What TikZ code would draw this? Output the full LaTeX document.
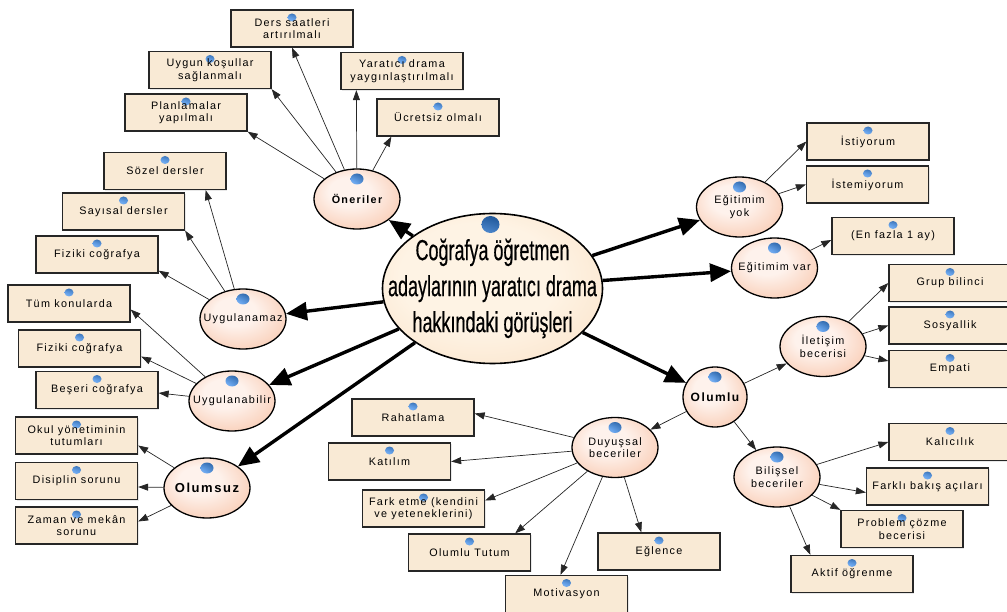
\documentclass[tikz,border=0pt]{standalone}
\usepackage{fontspec}
\setmainfont{Liberation Sans}
\newfontfamily\boxfont[LetterSpace=12]{Liberation Sans}
\newfontfamily\narrowfont[FakeStretch=0.62,FakeBold=0.4]{Liberation Sans}
\usetikzlibrary{arrows.meta,shapes.geometric,shadows}
\definecolor{boxfill}{RGB}{249,234,213}
\definecolor{ovalin}{RGB}{254,242,236}
\definecolor{ovalmid}{RGB}{250,212,192}
\definecolor{ovalout}{RGB}{238,148,112}
\definecolor{mainin}{RGB}{254,243,228}
\definecolor{mainmid}{RGB}{250,226,200}
\definecolor{mainout}{RGB}{240,198,160}
\definecolor{ballblue}{RGB}{55,135,230}
\pgfdeclareradialshading{ovalshade}{\pgfpoint{-6bp}{8bp}}{color(0bp)=(ovalin); color(12bp)=(ovalin);
  color(28bp)=(ovalmid); color(44bp)=(ovalout); color(50bp)=(ovalout)}
\pgfdeclareradialshading{mainshade}{\pgfpoint{-5bp}{6bp}}{color(0bp)=(mainin); color(18bp)=(mainin);
  color(36bp)=(mainmid); color(48bp)=(mainout); color(50bp)=(mainout)}

\begin{document}
\begin{tikzpicture}[x=1pt,y=-1pt,>={Triangle[length=10pt,width=7pt]},
    box/.style={rectangle,draw=black!85,line width=1.3pt,fill=boxfill,
      minimum width=122pt,minimum height=37pt,inner sep=2pt,align=center,
      font=\boxfont\fontsize{10.8}{12.5}\selectfont,
      drop shadow={shadow xshift=1.2pt,shadow yshift=-1.2pt,opacity=0.18},
      path picture={\shade[ball color=ballblue]
        ([yshift=-7.5pt]path picture bounding box.north) ellipse (4.5pt and 4pt);}},
    oval/.style={ellipse,draw=black,line width=1.3pt,shade,shading=ovalshade,
      minimum width=86pt,minimum height=60pt,inner xsep=-10pt,inner ysep=0pt,align=center,
      font=\boxfont\fontsize{10.8}{12.5}\selectfont,
      path picture={\shade[ball color=ballblue]
        ([yshift=-10pt]path picture bounding box.north) ellipse (6.5pt and 5.5pt);}},
    mainoval/.style={ellipse,draw=black,line width=1.6pt,shade,shading=mainshade,
      minimum width=220pt,minimum height=150pt,inner xsep=-30pt,inner ysep=-20pt,align=center,
      font=\narrowfont\fontsize{29}{36}\selectfont,
      path picture={\shade[ball color=ballblue]
        ([xshift=-2pt,yshift=-11pt]path picture bounding box.north) ellipse (9pt and 8.5pt);}},
    small arrow/.style={->,draw=black!85,line width=0.7pt},
    big arrow/.style={-{Triangle[length=21pt,width=18pt]},draw=black,line width=3.4pt}]
  \useasboundingbox (0,0) rectangle (1007,612);

  % center
  \node[mainoval] (main) at (492.5,288.5) {Coğrafya öğretmen\\adaylarının yaratıcı drama\\hakkındaki görüşleri};

  % first level
  \node[oval] (oner) at (357,199) {\bfseries Öneriler};
  \node[oval] (uygnmz) at (243,319) {Uygulanamaz};
  \node[oval] (uygnbl) at (232,401) {Uygulanabilir};
  \node[oval,font=\boxfont\bfseries\fontsize{13}{15}\selectfont] (olumsuz) at (207,488) {Olumsuz};
  \node[oval] (egyok) at (739.5,207) {Eğitimim\\yok};
  \node[oval] (egvar) at (774.5,268) {Eğitimim var};
  \node[oval,minimum width=64pt,font=\boxfont\bfseries\fontsize{12}{14}\selectfont] (olumlu) at (715,397) {Olumlu};
  \node[oval] (iletisim) at (823,346.5) {İletişim\\becerisi};
  \node[oval] (bilissel) at (777,477) {Bilişsel\\beceriler};
  \node[oval] (duyussal) at (615,447.5) {Duyuşsal\\beceriler};

  % oneriler
  \node[box] (ders) at (292,28.5) {Ders saatleri\\artırılmalı};
  \node[box] (uygun) at (210,70) {Uygun koşullar\\sağlanmalı};
  \node[box] (plan) at (186,112.5) {Planlamalar\\yapılmalı};
  \node[box] (yaygin) at (402,71) {Yaratıcı drama\\yaygınlaştırılmalı};
  \node[box] (ucret) at (438,117.5) {Ücretsiz olmalı};

  % uygulanamaz / uygulanabilir / olumsuz
  \node[box] (sozel) at (165,171) {Sözel dersler};
  \node[box] (sayisal) at (123.5,211.5) {Sayısal dersler};
  \node[box] (fiziki1) at (97,254.5) {Fiziki coğrafya};
  \node[box] (tum) at (69,303.5) {Tüm konularda};
  \node[box] (fiziki2) at (79.5,348.5) {Fiziki coğrafya};
  \node[box] (beseri) at (97,390) {Beşeri coğrafya};
  \node[box] (okul) at (76.5,435.5) {Okul yönetiminin\\tutumları};
  \node[box] (disiplin) at (76.5,481) {Disiplin sorunu};
  \node[box] (zaman) at (76.5,525.5) {Zaman ve mekân\\sorunu};

  % duyussal
  \node[box] (rahat) at (413,417.5) {Rahatlama};
  \node[box] (katilim) at (389.5,461.5) {Katılım};
  \node[box] (fark) at (423.5,508.5) {Fark etme (kendini\\ve yeteneklerini)};
  \node[box] (tutum) at (469.5,552.5) {Olumlu Tutum};
  \node[box] (motiv) at (566.5,594) {Motivasyon};
  \node[box] (eglence) at (659,551.5) {Eğlence};

  % egitim
  \node[box] (istiyorum) at (868,141.5) {İstiyorum};
  \node[box] (istemiyorum) at (867.5,184.5) {İstemiyorum};
  \node[box] (enfazla) at (893,236) {(En fazla 1 ay)};

  % iletisim / bilissel
  \node[box] (grup) at (950,283) {Grup bilinci};
  \node[box] (sosyal) at (950,325.5) {Sosyallik};
  \node[box] (empati) at (950,369) {Empati};
  \node[box] (kalici) at (950,442) {Kalıcılık};
  \node[box] (farkli) at (927.5,486.5) {Farklı bakış açıları};
  \node[box] (problem) at (902,529) {Problem çözme\\becerisi};
  \node[box] (aktif) at (852,574) {Aktif öğrenme};

  \path (main) edge[big arrow] (oner)
               edge[big arrow] (uygnmz)
               edge[big arrow] (uygnbl)
               edge[big arrow] (olumsuz)
               edge[big arrow] (egyok)
               edge[big arrow] (egvar)
               edge[big arrow] (olumlu);

  \path (oner) edge[small arrow] (ders.south)
               edge[small arrow] (uygun.south east)
               edge[small arrow] (plan.south east)
               edge[small arrow] ([xshift=16pt]yaygin.south west)
               edge[small arrow] ([xshift=15pt]ucret.south west);
  \path (uygnmz) edge[small arrow] ([xshift=-21pt]sozel.south east)
                 edge[small arrow] (sayisal.south east)
                 edge[small arrow] ([yshift=3pt]fiziki1.south east);
  \path (uygnbl) edge[small arrow] ([yshift=-6pt]tum.east)
                 edge[small arrow] ([yshift=-8pt]fiziki2.east)
                 edge[small arrow] ([yshift=-3pt]beseri.east);
  \path (olumsuz) edge[small arrow] ([yshift=-10pt]okul.east)
                  edge[small arrow] ([yshift=-6pt]disiplin.east)
                  edge[small arrow] ([yshift=4pt]zaman.east);
  \path (egyok) edge[small arrow] (istiyorum.west)
                edge[small arrow] (istemiyorum.west);
  \path (egvar) edge[small arrow] ([yshift=-4pt]enfazla.west);
  \path (olumlu) edge[small arrow] (iletisim)
                 edge[small arrow] (bilissel)
                 edge[small arrow] (duyussal);
  \path (iletisim) edge[small arrow] (grup.west)
                   edge[small arrow] (sosyal.west)
                   edge[small arrow] ([yshift=8pt]empati.west);
  \path (bilissel) edge[small arrow] (kalici.west)
                   edge[small arrow] ([yshift=-6pt]farkli.west)
                   edge[small arrow] (problem.north west)
                   edge[small arrow] ([xshift=20pt]aktif.north west);
  \path (duyussal) edge[small arrow] ([yshift=4pt]rahat.east)
                   edge[small arrow] (katilim.east)
                   edge[small arrow] ([yshift=8pt]fark.east)
                   edge[small arrow] ([xshift=-16pt]tutum.north east)
                   edge[small arrow] ([xshift=-6pt]motiv.north)
                   edge[small arrow] ([xshift=44pt]eglence.north west);
\end{tikzpicture}
\end{document}
